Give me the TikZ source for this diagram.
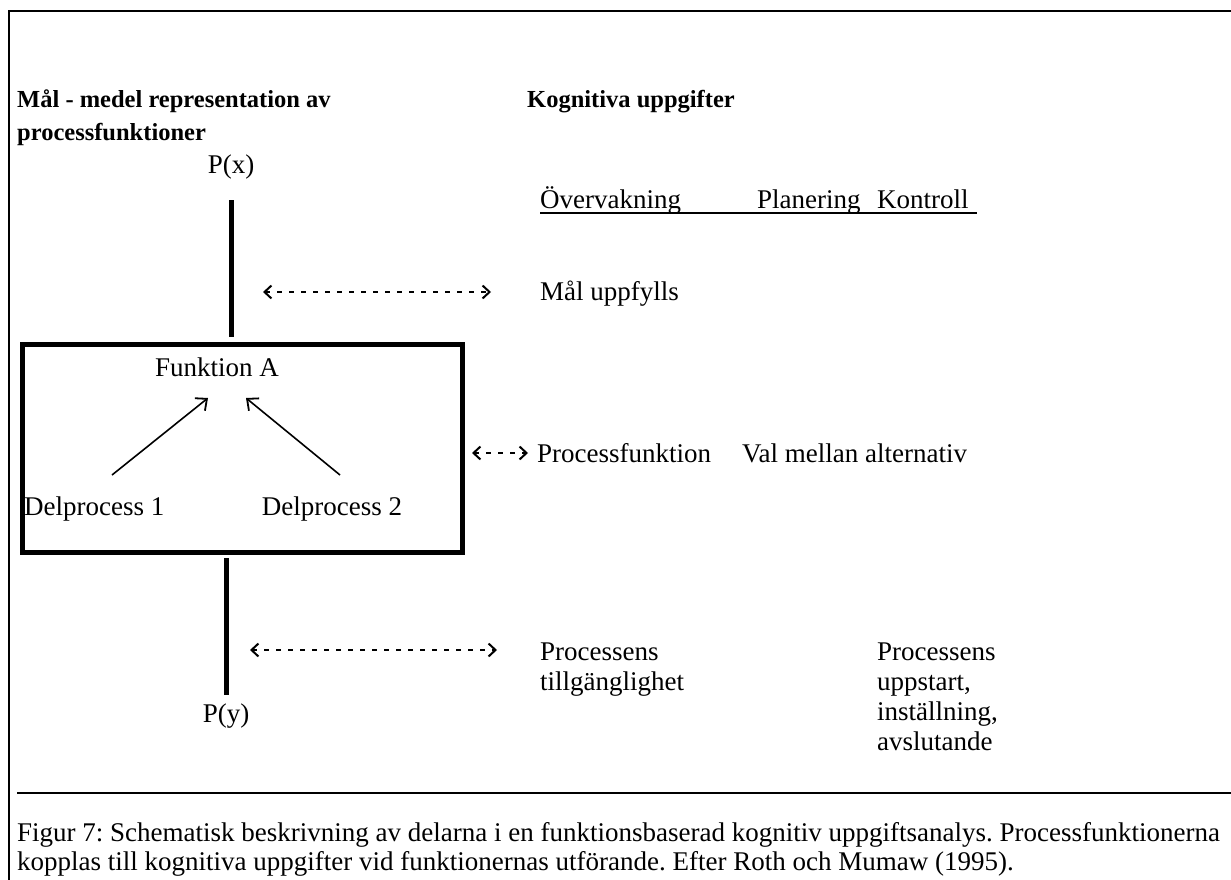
\documentclass[tikz,border=0pt]{standalone}
\usepackage{fontspec}
\setmainfont{Liberation Serif}
\usetikzlibrary{arrows.meta}
\begin{document}
\frenchspacing
\begin{tikzpicture}[x=1pt,y=-1pt,
  txt/.style={font=\fontsize{27}{32}\selectfont, inner sep=0pt, anchor=base west},
  txtc/.style={font=\fontsize{27}{32}\selectfont, inner sep=0pt, anchor=base},
  hd/.style={font=\fontsize{24.5}{29}\selectfont\bfseries, inner sep=0pt, anchor=base west},
  frame/.style={line width=2.5pt},
  thick line/.style={line width=5pt},
  dotarrow/.style={line width=1.8pt, dash pattern=on 5pt off 7pt, {Straight Barb[length=7pt,width=13pt,line width=2pt]}-{Straight Barb[length=7pt,width=13pt,line width=2pt]}},
  solidarrow/.style={line width=1.6pt, -{Straight Barb[length=9pt,width=16pt,line width=1.8pt]}}
]
\useasboundingbox (0,0) rectangle (1231,880);
% frame
\draw[frame] (9,880) -- (9,11) -- (1231,11);
\draw[line width=1.6pt] (17,793) -- (1231,793);
% headings
\node[hd] (h1) at (17,108) {Mål - medel representation av};
\node[hd] (h2) at (17,140) {processfunktioner};
\node[hd] (h3) at (527,108) {Kognitiva uppgifter};
% left column
\node[txtc] (px) at (231,173) {P(x)};
\coordinate (pxa) at (231,200);
\coordinate (pxb) at (231,337);
\draw[thick line] (pxa) -- (pxb);
\node[draw, line width=5pt, minimum width=440pt, minimum height=208pt, anchor=north west, inner sep=0pt] (box) at (20,342) {};
\node[txtc] (fa) at (217,376) {Funktion A};
\node[txt] (d1) at (24,515) {Delprocess 1};
\node[txtc] (d2) at (332,515) {Delprocess 2};
\coordinate (t1) at (112,475);
\coordinate (h1a) at (208,398);
\coordinate (t2) at (340,475);
\coordinate (h2a) at (246,398);
\draw[solidarrow] (t1) -- (h1a);
\draw[solidarrow] (t2) -- (h2a);
\coordinate (pya) at (226,558);
\coordinate (pyb) at (226,695);
\draw[thick line] (pya) -- (pyb);
\node[txtc] (py) at (226,722) {P(y)};
% dotted arrows
\coordinate (a1l) at (263,292);
\coordinate (a1r) at (491,292);
\draw[dotarrow] (a1l) -- (a1r);
\coordinate (a2l) at (472,453);
\coordinate (a2r) at (528,453);
\draw[dotarrow] (a2l) -- (a2r);
\coordinate (a3l) at (250,650);
\coordinate (a3r) at (497,650);
\draw[dotarrow] (a3l) -- (a3r);
% right column
\node[txt] (ov) at (540,208) {Övervakning};
\node[txt] (pl) at (757,208) {Planering};
\node[txt] (ko) at (877,208) {Kontroll};
\coordinate (ul1) at (540,213);
\coordinate (ul2) at (977,213);
\draw[line width=1.3pt] (ul1) -- (ul2);
\node[txt] (mu) at (540,300) {Mål uppfylls};
\node[txt] (pf) at (537,462) {Processfunktion};
\node[txt] (va) at (742,462) {Val mellan alternativ};
\node[txt] (p1) at (540,660) {Processens};
\node[txt] (p2) at (540,690) {tillgänglighet};
\node[txt] (q1) at (877,660) {Processens};
\node[txt] (q2) at (877,690) {uppstart,};
\node[txt] (q3) at (877,720) {inställning,};
\node[txt] (q4) at (877,750) {avslutande};
% caption
\node[txt] (c1) at (17,841) {Figur 7: Schematisk beskrivning av delarna i en funktionsbaserad kognitiv uppgiftsanalys. Processfunktionerna};
\node[txt] (c2) at (17,870) {kopplas till kognitiva uppgifter vid funktionernas utförande. Efter Roth och Mumaw (1995).};
\end{tikzpicture}
\end{document}
